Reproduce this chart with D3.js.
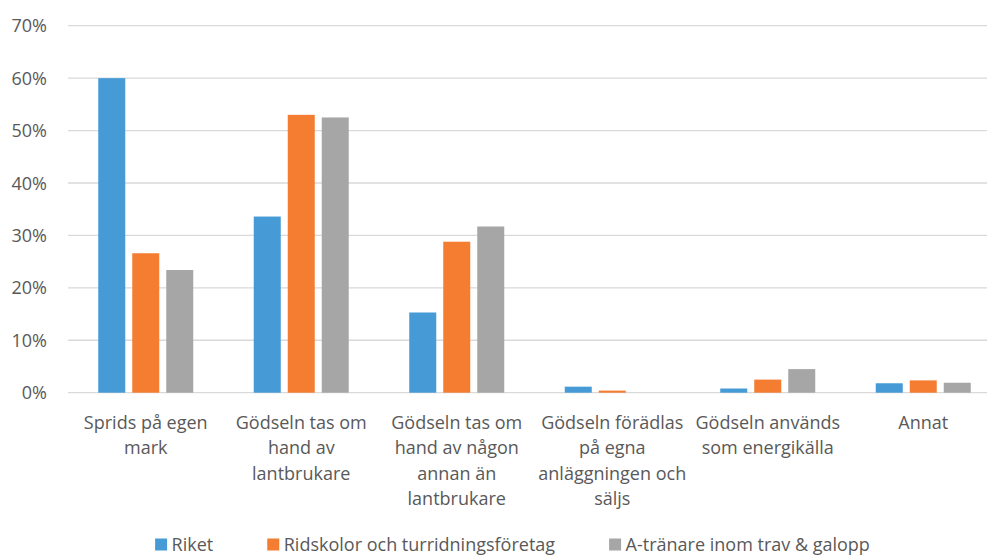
<!DOCTYPE html>
<html lang="sv">
<head>
<meta charset="utf-8">
<script src="https://cdn.jsdelivr.net/npm/d3@7"></script>
<style>
  html, body { margin: 0; padding: 0; background: #fff; }
  svg { display: block; font-family: "Open Sans", "Noto Sans", sans-serif; }
</style>
</head>
<body>
<svg id="chart" width="987" height="556"></svg>
<script>
// Kategorier (radbrutna som i diagrammet)
const categories = [
  "Sprids på egen mark",
  "Gödseln tas om hand av lantbrukare",
  "Gödseln tas om hand av någon annan än lantbrukare",
  "Gödseln förädlas på egna anläggningen och säljs",
  "Gödseln används som energikälla",
  "Annat"
];
const categoryLines = [
  ["Sprids på egen", "mark"],
  ["Gödseln tas om", "hand av", "lantbrukare"],
  ["Gödseln tas om", "hand av någon", "annan än", "lantbrukare"],
  ["Gödseln förädlas", "på egna", "anläggningen och", "säljs"],
  ["Gödseln används", "som energikälla"],
  ["Annat"]
];

// Serier
const seriesNames = ["Riket", "Ridskolor och turridningsföretag", "A-tränare inom trav & galopp"];
const riket     = [0.600, 0.336, 0.153, 0.0115, 0.008, 0.018];
const ridskolor = [0.266, 0.530, 0.288, 0.004, 0.025, 0.0235];
const atranare  = [0.234, 0.525, 0.317, 0.000, 0.045, 0.019];
const seriesColors = ["#469BD6", "#F47D32", "#A6A6A6"];

// Y-axelns skalsteg
const yTicks = [0, 0.1, 0.2, 0.3, 0.4, 0.5, 0.6, 0.7];

const seriesValues = [riket, ridskolor, atranare];
const svg = d3.select("#chart");

const plot = { left: 68, right: 1001, top: 25.7, bottom: 392.7 };
const textColor = "#595959";

const x0 = d3.scaleBand()
  .domain(categories)
  .range([plot.left, plot.right])
  .paddingInner(0)
  .paddingOuter(0);

const groupSpan = 95;
const x1 = d3.scaleBand()
  .domain(seriesNames)
  .range([(x0.bandwidth() - groupSpan) / 2, (x0.bandwidth() + groupSpan) / 2])
  .paddingInner(7 / 34)
  .paddingOuter(0);

const y = d3.scaleLinear()
  .domain([0, 0.7])
  .range([plot.bottom, plot.top]);

// Stödlinjer
svg.append("g")
  .selectAll("line")
  .data(yTicks)
  .join("line")
  .attr("x1", plot.left)
  .attr("x2", plot.right)
  .attr("y1", d => y(d))
  .attr("y2", d => y(d))
  .attr("stroke", "#D9D9D9")
  .attr("stroke-width", 1.3);

// Y-axel
const yAxis = svg.append("g")
  .attr("transform", `translate(${plot.left - 21},0)`)
  .call(d3.axisLeft(y).tickValues(yTicks).tickFormat(d3.format(".0%")).tickSize(0).tickPadding(0));
yAxis.select(".domain").remove();
yAxis.selectAll("text")
  .attr("fill", textColor)
  .style("font-size", "18px")
  .style("font-family", "'Open Sans', sans-serif")
  .attr("dy", "0.34em");

// Staplar
const rows = categories.map((c, i) => ({
  category: c,
  values: seriesNames.map((s, j) => ({ series: s, value: seriesValues[j][i], color: seriesColors[j] }))
}));

svg.append("g")
  .selectAll("g")
  .data(rows)
  .join("g")
  .attr("transform", d => `translate(${x0(d.category)},0)`)
  .selectAll("rect")
  .data(d => d.values)
  .join("rect")
  .attr("x", d => x1(d.series))
  .attr("width", x1.bandwidth())
  .attr("y", d => y(d.value))
  .attr("height", d => y(0) - y(d.value))
  .attr("fill", d => d.color);

// X-axel med radbrutna etiketter
const xAxis = svg.append("g")
  .attr("transform", `translate(0,${plot.bottom})`)
  .call(d3.axisBottom(x0).tickSize(0).tickFormat(""));
xAxis.select(".domain").remove();
xAxis.selectAll(".tick text").remove();
xAxis.selectAll(".tick")
  .append("text")
  .attr("fill", textColor)
  .attr("text-anchor", "middle")
  .style("font-size", "18px")
  .style("font-family", "'Open Sans', sans-serif")
  .each(function(d) {
    const lines = categoryLines[categories.indexOf(d)];
    d3.select(this).selectAll("tspan")
      .data(lines)
      .join("tspan")
      .attr("x", 0)
      .attr("y", (l, k) => 36.3 + k * 25.3)
      .text(l => l);
  });

// Teckenförklaring
const legend = svg.append("g").attr("transform", "translate(0,550.5)");
const items = legend.selectAll("g")
  .data(seriesNames)
  .join("g");
items.append("rect")
  .attr("y", -12)
  .attr("width", 12)
  .attr("height", 12)
  .attr("fill", (d, i) => seriesColors[i]);
items.append("text")
  .attr("x", 16.5)
  .attr("fill", textColor)
  .style("font-size", "18px")
  .text(d => d);

let cursor = 0;
const gap = 54;
const widths = [];
items.each(function() {
  const w = 16.5 + d3.select(this).select("text").node().getComputedTextLength();
  widths.push(w);
});
const total = d3.sum(widths) + gap * (widths.length - 1);
const startX = 512.5 - total / 2;
items.attr("transform", (d, i) => {
  const xPos = startX + cursor;
  cursor += widths[i] + gap;
  return `translate(${xPos},0)`;
});
</script>
</body>
</html>
